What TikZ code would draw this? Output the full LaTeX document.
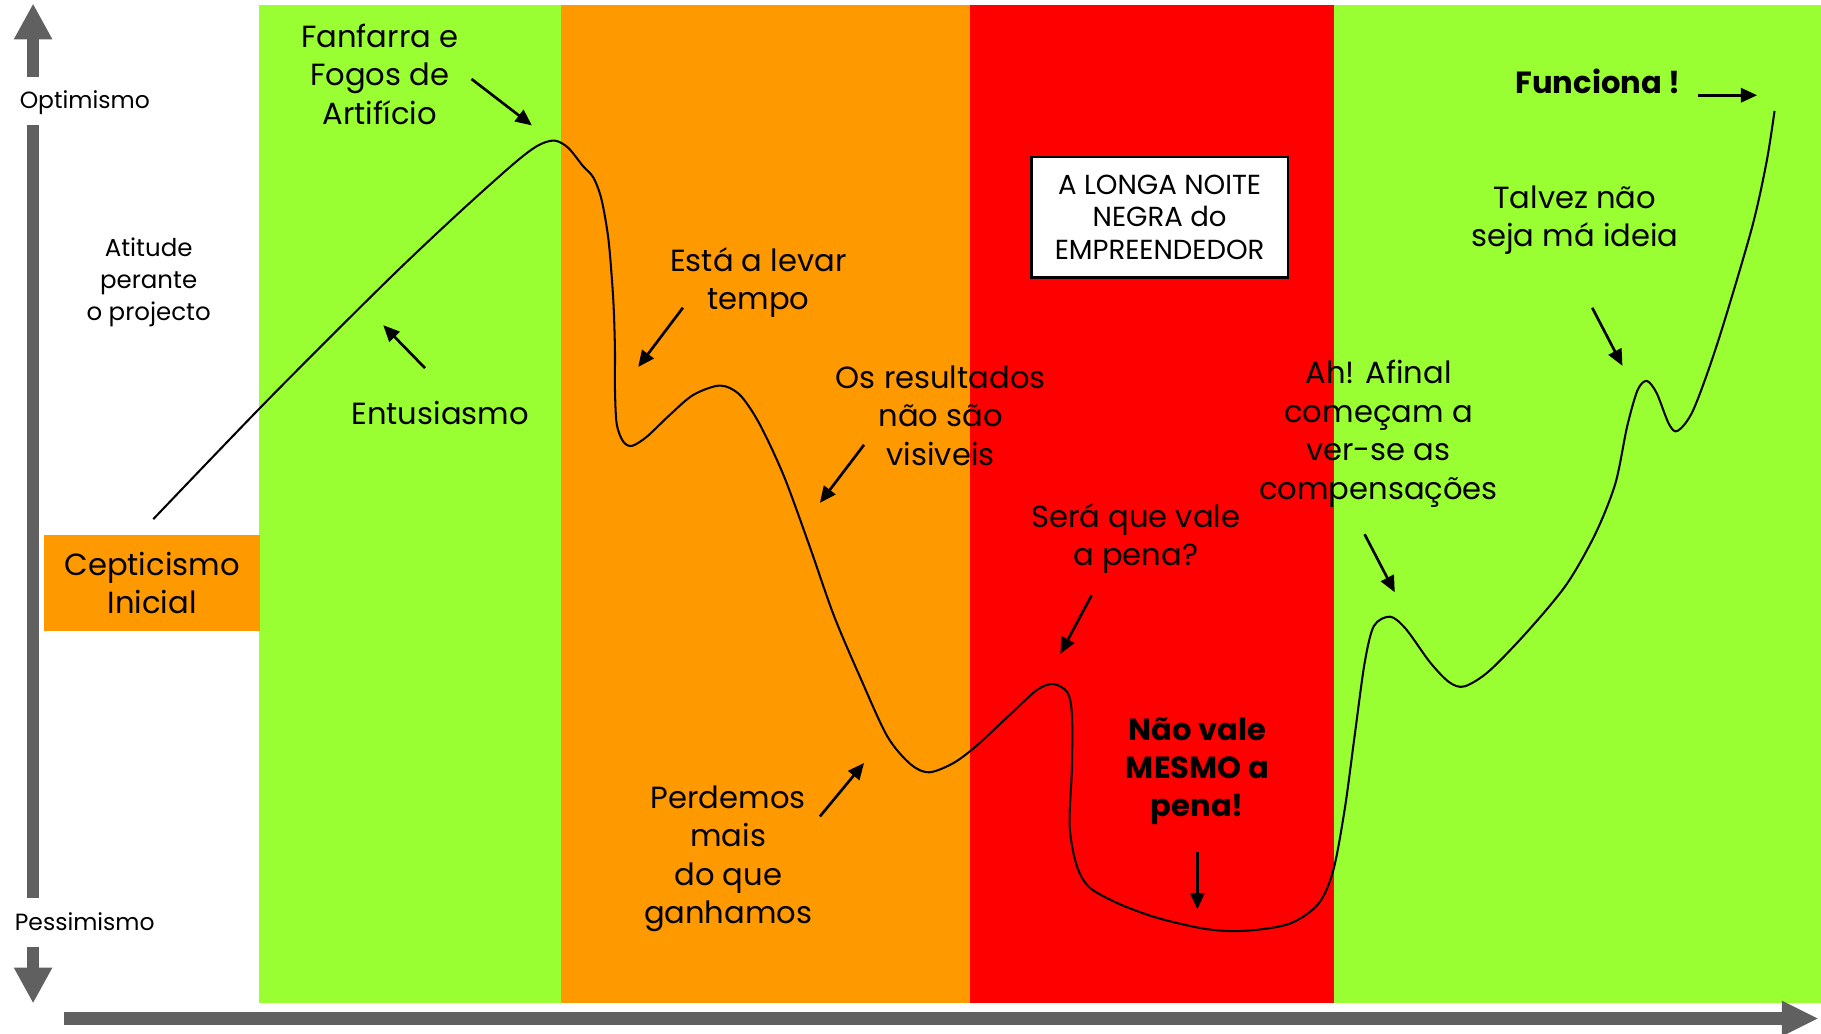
\documentclass[tikz,border=0pt]{standalone}
\usepackage{fontspec}
\setmainfont{Poppins}
\usetikzlibrary{arrows.meta,positioning}
\definecolor{bandgreen}{HTML}{99FF33}
\definecolor{bandorange}{HTML}{FF9900}
\definecolor{bandred}{HTML}{FF0000}
\definecolor{axisgray}{HTML}{606060}

\begin{document}
\begin{tikzpicture}[x=0.02cm, y=-0.02cm,
    lbl/.style={align=center, inner sep=0pt, font=\fontsize{15}{18.8}\selectfont},
    hot/.style={align=center, inner sep=0pt, font=\fontsize{15}{18.8}\selectfont\bfseries},
    axlbl/.style={align=center, inner sep=0pt, font=\fontsize{11.5}{15.6}\selectfont},
    pointer/.style={-{Triangle[length=8pt,width=7pt]}, line width=1.3pt},
    axis/.style={draw=axisgray, line width=5.7pt, -{Triangle[length=17.6pt,width=17.6pt]}}]
    \useasboundingbox (0,0) rectangle (1568,890);
    % fases
    \fill[bandgreen] (223,4) rectangle (483,864);
    \fill[bandorange] (483,4) rectangle (835,864);
    \fill[bandred] (835,4) rectangle (1149,864);
    \fill[bandgreen] (1149,4) rectangle (1568,864);
    % eixos
    \node[axlbl] (opt) at (73,88) {Optimismo};
    \node[axlbl] (pes) at (73,794) {Pessimismo};
    \node[axlbl, font=\fontsize{12}{15.8}\selectfont] (atit) at (128,243) {Atitude\\perante\\o projecto};
    \coordinate (ytop) at (28.5,3);
    \coordinate (ybot) at (28.5,864);
    \coordinate (xend) at (1566,877);
    \draw[axis] (28.5,66) -- (ytop);
    \draw[axisgray, line width=5.7pt] (28.5,108) -- (28.5,773);
    \draw[axis] (28.5,815) -- (ybot);
    \draw[axis, line width=6.2pt, -{Triangle[length=18pt,width=16pt]}] (55,877) -- (xend);
    % curva
    \draw[line width=1pt] plot[smooth, tension=0.5] coordinates {
        (132,447) (230,345) (330,245) (390,188) (440,143) (462,126) (477,121)
        (489,127) (502,143) (511,153) (518,172) (524,207)
        (528,257) (529.5,300) (529.5,334) (531,365) (536.5,380) (544,384)
        (557,376) (577,357) (597,340) (620,332) (637,340) (654,365) (675,410)
        (697,470) (718,530) (741,584) (764,634) (784,658) (800,665) (821,657)
        (841,642) (870,615) (893,594) (907,589) (919,596) (923,615) (923,661)
        (921,711) (927,745) (938,764) (963,778) (997,790.5) (1039,800)
        (1072,801.5) (1110,795.5) (1135,778.5) (1148,749.5) (1158,696)
        (1166.5,633) (1175,571) (1183,539) (1197,531) (1210.5,541.5)
        (1231.5,570.5) (1248,587.5) (1261,591) (1282,578) (1315,544) (1349,503)
        (1374,459) (1391,416) (1401,367.5) (1410,336) (1418,328) (1426.5,338.5)
        (1437,365) (1444.5,371) (1458,353) (1479,295) (1508,198) (1521,140)
        (1528,95.5)};
    % caixas
    \node[lbl, fill=bandorange, minimum width=3.72cm, minimum height=1.64cm] (cep) at (131,502) {Cepticismo\\Inicial};
    \node[align=center, fill=white, draw=black, line width=1.2pt, minimum width=4.42cm, minimum height=2.08cm,
        font=\fontsize{13.5}{16}\selectfont] (noite) at (998.5,187) {A LONGA NOITE\\NEGRA do\\EMPREENDEDOR};
    % etiquetas
    \node[lbl] (fan) at (327,64) {Fanfarra e\\Fogos de\\Artifício};
    \node[lbl] (ent) at (379,356) {Entusiasmo};
    \node[lbl] (tempo) at (653,243.5) {Está a levar\\tempo};
    \node[lbl] (res) at (810,358) {Os resultados\\não são\\visiveis};
    \node[lbl] (sera) at (978,463.5) {Será que vale\\a pena?};
    \node[hot] (naovale) at (1031,664) {Não vale\\MESMO a\\pena!};
    \node[lbl] (perd) at (627,739.5) {Perdemos\\mais\\do que\\ganhamos};
    \node[lbl] (ah) at (1187,373.5) {Ah! Afinal\\começam a\\ver-se as\\compensações};
    \node[lbl] (talvez) at (1356,189.5) {Talvez não\\seja má ideia};
    \node[hot] (func) at (1376,70) {Funciona !};
    % setas
    \coordinate (fanA) at (406,68);   \coordinate (fanB) at (458,108);
    \coordinate (entA) at (366,317);  \coordinate (entB) at (330,280);
    \coordinate (tempoA) at (588,265); \coordinate (tempoB) at (549.5,316);
    \coordinate (resA) at (744,383);  \coordinate (resB) at (706,433);
    \coordinate (perdA) at (706,703); \coordinate (perdB) at (744,657);
    \coordinate (seraA) at (940,512.5); \coordinate (seraB) at (913,563);
    \coordinate (naoA) at (1031,734); \coordinate (naoB) at (1031,783);
    \coordinate (ahA) at (1175,460);  \coordinate (ahB) at (1201,510);
    \coordinate (talA) at (1371,265); \coordinate (talB) at (1397,315);
    \coordinate (funA) at (1462,82);  \coordinate (funB) at (1513,82);
    \draw[pointer] (fanA) -- (fanB);
    \draw[pointer] (entA) -- (entB);
    \draw[pointer] (tempoA) -- (tempoB);
    \draw[pointer] (resA) -- (resB);
    \draw[pointer] (perdA) -- (perdB);
    \draw[pointer] (seraA) -- (seraB);
    \draw[pointer] (naoA) -- (naoB);
    \draw[pointer] (ahA) -- (ahB);
    \draw[pointer] (talA) -- (talB);
    \draw[pointer] (funA) -- (funB);
\end{tikzpicture}
\end{document}
